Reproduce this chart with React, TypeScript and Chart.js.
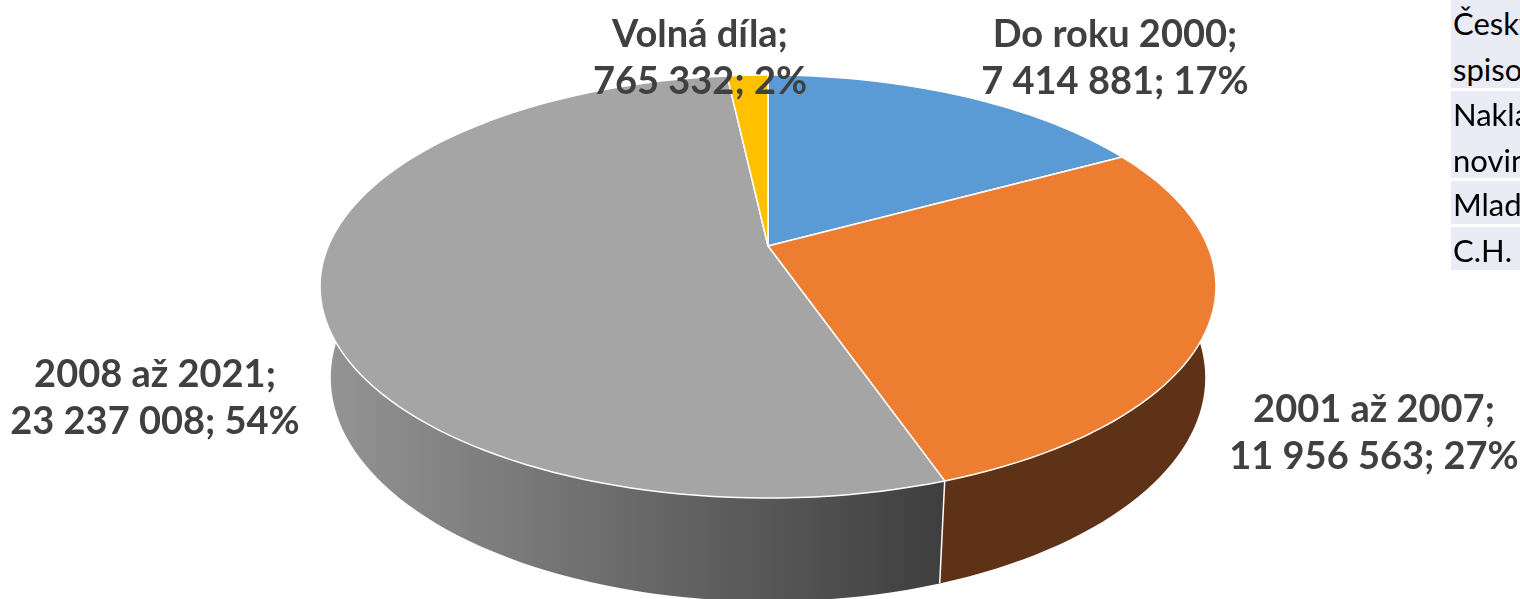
import React, { useEffect, useRef } from "react";
import { Chart, registerables } from "chart.js";

Chart.register(...registerables);

const categories = ["Do roku 2000", "2001 až 2007", "2008 až 2021", "Volná díla"];
const values = [7414881, 11956563, 23237008, 765332];
const percentLabels = ["17%", "27%", "54%", "2%"];
const topColors = ["#5B9BD5", "#ED7D31", "#A5A5A5", "#FFC000"];
const sideColorsStart = ["#2F5F8E", "#5E3216", "#959595", "#8C6A00"];
const sideColorsEnd = ["#2F5F8E", "#5E3216", "#3E3E3E", "#8C6A00"];
const tableRows = [["Český", "spisovatel"], ["Nakladatelství Lidové", "noviny"], ["Mladá fronta"], ["C.H. Beck"]];

const fmt = (v: number) => v.toString().replace(/\B(?=(\d{3})+(?!\d))/g, " ");

// label anchors (layout), centre of first line
const labelAnchors = [
  [1115, 35],
  [1374, 410],
  [155, 375],
  [700, 35],
];

const pie3d = {
  id: "pie3d",
  beforeDatasetsDraw(chart: any) {
    const ctx = chart.ctx as CanvasRenderingContext2D;
    const meta = chart.getDatasetMeta(0);
    const ca = chart.chartArea;
    const cx = (ca.left + ca.right) / 2;
    const cy = 246;
    const Dc = 4.624, H = 2.143, L = 4.097, F = 2033, T = 0.236;
    const proj = (a: number, t: number) => {
      const X = Math.cos(a), Z = Math.sin(a);
      const depth = Dc + (H * t - L * Z) / Dc;
      return [cx + (F * X) / depth, cy + (F * (L * t + H * Z)) / Dc / depth];
    };
    const N = 200;
    // walls
    const frontLo = -0.15, frontHi = Math.PI + 0.15;
    const walls: any[] = [];
    meta.data.forEach((el: any, i: number) => {
      const s = Math.max(el.startAngle, frontLo);
      const e = Math.min(el.endAngle, frontHi);
      if (e <= s) return;
      walls.push({ i, s, e });
    });
    walls.forEach(({ i, s, e }) => {
      ctx.save();
      ctx.beginPath();
      const steps = Math.max(2, Math.ceil(((e - s) / (2 * Math.PI)) * N));
      for (let k = 0; k <= steps; k++) {
        const a = s + ((e - s) * k) / steps;
        const [x, y] = proj(a, 0);
        if (k === 0) ctx.moveTo(x, y);
        else ctx.lineTo(x, y);
      }
      for (let k = steps; k >= 0; k--) {
        const a = s + ((e - s) * k) / steps;
        const [x, y] = proj(a, T);
        ctx.lineTo(x, y);
      }
      ctx.closePath();
      const g = ctx.createLinearGradient(320, 0, 945, 0);
      g.addColorStop(0, sideColorsStart[i]);
      g.addColorStop(1, sideColorsEnd[i]);
      ctx.fillStyle = g;
      ctx.fill();
      ctx.restore();
    });
    // wall separators
    meta.data.forEach((el: any) => {
      const a = el.startAngle;
      if (Math.sin(a) > 0.15) {
        const [x1, y1] = proj(a, 0);
        const [x2, y2] = proj(a, T);
        ctx.save();
        ctx.strokeStyle = "#FFFFFF";
        ctx.lineWidth = 1.5;
        ctx.beginPath();
        ctx.moveTo(x1, y1);
        ctx.lineTo(x2, y2);
        ctx.stroke();
        ctx.restore();
      }
    });
    // tops
    meta.data.forEach((el: any, i: number) => {
      const s = el.startAngle, e = el.endAngle;
      const steps = Math.max(2, Math.ceil(((e - s) / (2 * Math.PI)) * N));
      ctx.save();
      ctx.beginPath();
      ctx.moveTo(cx, cy);
      for (let k = 0; k <= steps; k++) {
        const a = s + ((e - s) * k) / steps;
        const [x, y] = proj(a, 0);
        ctx.lineTo(x, y);
      }
      ctx.closePath();
      ctx.fillStyle = topColors[i];
      ctx.fill();
      ctx.strokeStyle = "#FFFFFF";
      ctx.lineWidth = 1.5;
      ctx.lineJoin = "round";
      ctx.stroke();
      ctx.restore();
    });
    // labels
    ctx.save();
    ctx.fillStyle = "#404040";
    ctx.font = "bold 38px Lato";
    ctx.textAlign = "center";
    ctx.textBaseline = "middle";
    const total = values.reduce((p, c) => p + c, 0);
    meta.data.forEach((_el: any, i: number) => {
      if (!total) return;
      const [lx, ly] = labelAnchors[i];
      ctx.fillText(categories[i] + ";", lx, ly);
      ctx.fillText(fmt(values[i]) + "; " + percentLabels[i], lx, ly + 47);
    });
    ctx.restore();
    return false;
  },
};

export default function App() {
  const ref = useRef<HTMLCanvasElement | null>(null);
  useEffect(() => {
    if (!ref.current) return;
    const chart = new Chart(ref.current, {
      type: "pie",
      data: {
        labels: categories,
        datasets: [{ data: values, backgroundColor: topColors, borderColor: "#FFFFFF" }],
      },
      options: {
        responsive: false,
        animation: false,
        layout: { padding: { left: 16, right: 0, top: 0, bottom: 0 } },
        plugins: { legend: { display: false }, tooltip: { enabled: false } },
      },
      plugins: [pie3d],
    });
    return () => chart.destroy();
  }, []);

  const rowTops = [0, 91, 181, 227];
  const rowHeights = [88, 87, 43, 43];
  return (
    <div style={{ position: "fixed", left: 0, top: 0, width: 1520, height: 599, background: "#FFFFFF", overflow: "hidden" }}>
      <canvas ref={ref} width={1520} height={599} style={{ position: "absolute", left: 0, top: 0, width: 1520, height: 599 }} />
      {tableRows.map((lines, i) => (
        <div
          key={i}
          style={{
            position: "absolute",
            left: 1451,
            top: rowTops[i],
            width: 200,
            height: rowHeights[i],
            background: "#E9EBF5",
            fontFamily: "Lato",
            fontSize: 31,
            lineHeight: "46px",
            color: "#000000",
            whiteSpace: "nowrap",
            paddingLeft: 2,
            boxSizing: "border-box",
          }}
        >
          {lines.map((t, j) => (
            <div key={j}>{t}</div>
          ))}
        </div>
      ))}
    </div>
  );
}
